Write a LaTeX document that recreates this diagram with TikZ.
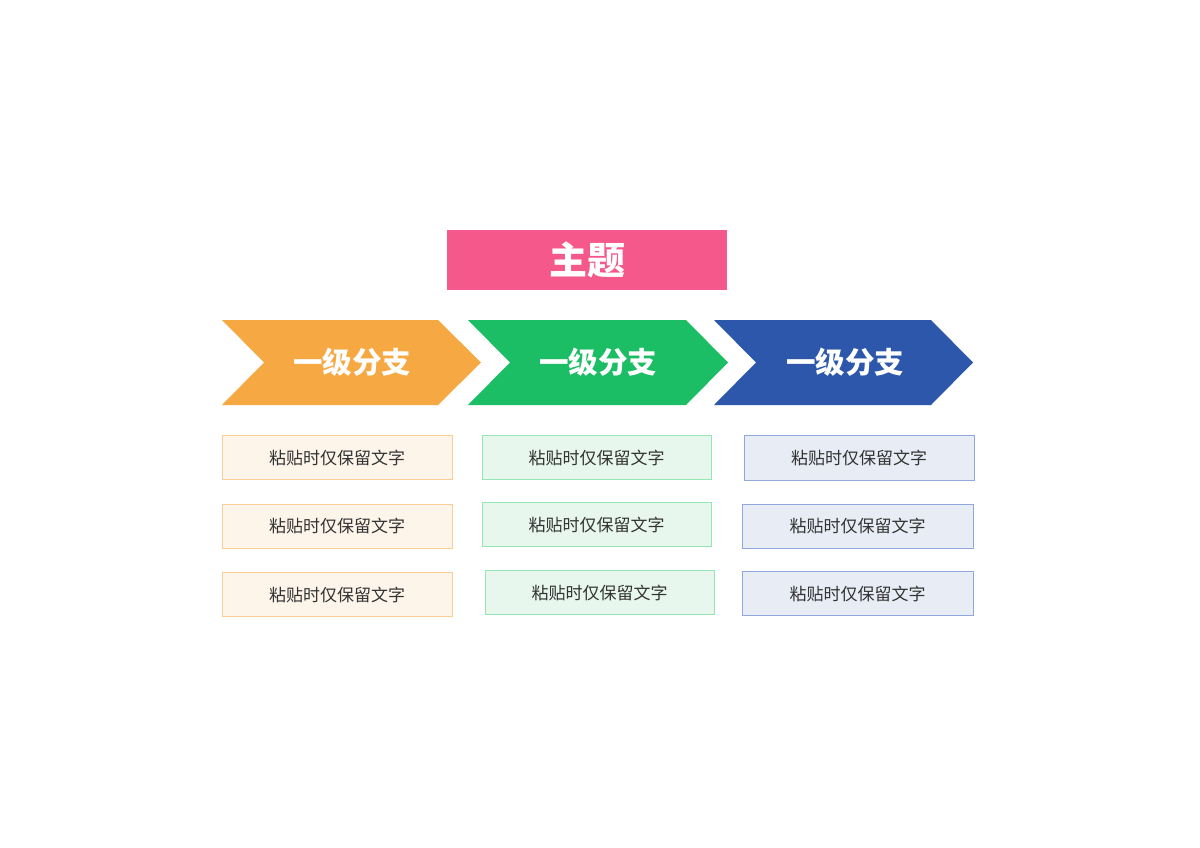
\documentclass[tikz,border=0pt]{standalone}
\usepackage{fontspec}
\setmainfont{Noto Sans CJK SC}
\begin{document}
\begin{tikzpicture}[x=1pt,y=-1pt,
  title/.style={text=white,font=\bfseries\fontsize{38}{44}\selectfont},
  chevtext/.style={text=white,font=\bfseries\fontsize{29.5}{34}\selectfont},
  leaf/.style={line width=0.8pt},
  oleaf/.style={leaf,fill=ofill,draw=oline},
  gleaf/.style={leaf,fill=gfill,draw=gline},
  bleaf/.style={leaf,fill=bfill,draw=bline},
  ltext/.style={text=leaftext,font=\fontsize{17}{20}\selectfont}]
\definecolor{titlepink}{HTML}{F5588A}
\definecolor{orng}{HTML}{F6A843}
\definecolor{grn}{HTML}{1BBE64}
\definecolor{blu}{HTML}{2D57AB}
\definecolor{ofill}{HTML}{FDF4EA}
\definecolor{oline}{HTML}{FBCF93}
\definecolor{gfill}{HTML}{E7F7ED}
\definecolor{gline}{HTML}{94E6B4}
\definecolor{bfill}{HTML}{E8ECF5}
\definecolor{bline}{HTML}{8FA9DE}
\definecolor{leaftext}{HTML}{333333}
\useasboundingbox[fill=white] (0,0) rectangle (1200,848);
% title
\fill[titlepink] (447,230) rectangle (727,290);
\node[title] (t) at (587,260) {主题};
% chevrons
\fill[orng] (222,320) -- (438,320) -- (481,362.5) -- (438,405) -- (222,405) -- (264,362.5) -- cycle;
\fill[grn] (468,320) -- (686,320) -- (728,362.5) -- (686,405) -- (468,405) -- (510,362.5) -- cycle;
\fill[blu] (714,320) -- (931,320) -- (973,362.5) -- (931,405) -- (714,405) -- (756,362.5) -- cycle;
\node[chevtext] (c1) at (352,362) {一级分支};
\node[chevtext] (c2) at (598,362) {一级分支};
\node[chevtext] (c3) at (845,362) {一级分支};
% leaves
\draw[oleaf] (222,435.5) rectangle (452,479.5);
\node[ltext] (o1) at (337,457.5) {粘贴时仅保留文字};
\draw[oleaf] (222,504) rectangle (452,548);
\node[ltext] (o2) at (337,526) {粘贴时仅保留文字};
\draw[oleaf] (222,572.5) rectangle (452,616.5);
\node[ltext] (o3) at (337,594.5) {粘贴时仅保留文字};
\draw[gleaf] (482,435.5) rectangle (711,479.5);
\node[ltext] (g1) at (596.5,457.5) {粘贴时仅保留文字};
\draw[gleaf] (482,502.5) rectangle (711,546.5);
\node[ltext] (g2) at (596.5,524.5) {粘贴时仅保留文字};
\draw[gleaf] (485,570.5) rectangle (714,614.5);
\node[ltext] (g3) at (599.5,592.5) {粘贴时仅保留文字};
\draw[bleaf] (744,435.5) rectangle (974,480.5);
\node[ltext] (b1) at (859,458) {粘贴时仅保留文字};
\draw[bleaf] (742,504) rectangle (973,548);
\node[ltext] (b2) at (857.5,526) {粘贴时仅保留文字};
\draw[bleaf] (742,571.5) rectangle (973,615.5);
\node[ltext] (b3) at (857.5,593.5) {粘贴时仅保留文字};
\end{tikzpicture}
\end{document}
